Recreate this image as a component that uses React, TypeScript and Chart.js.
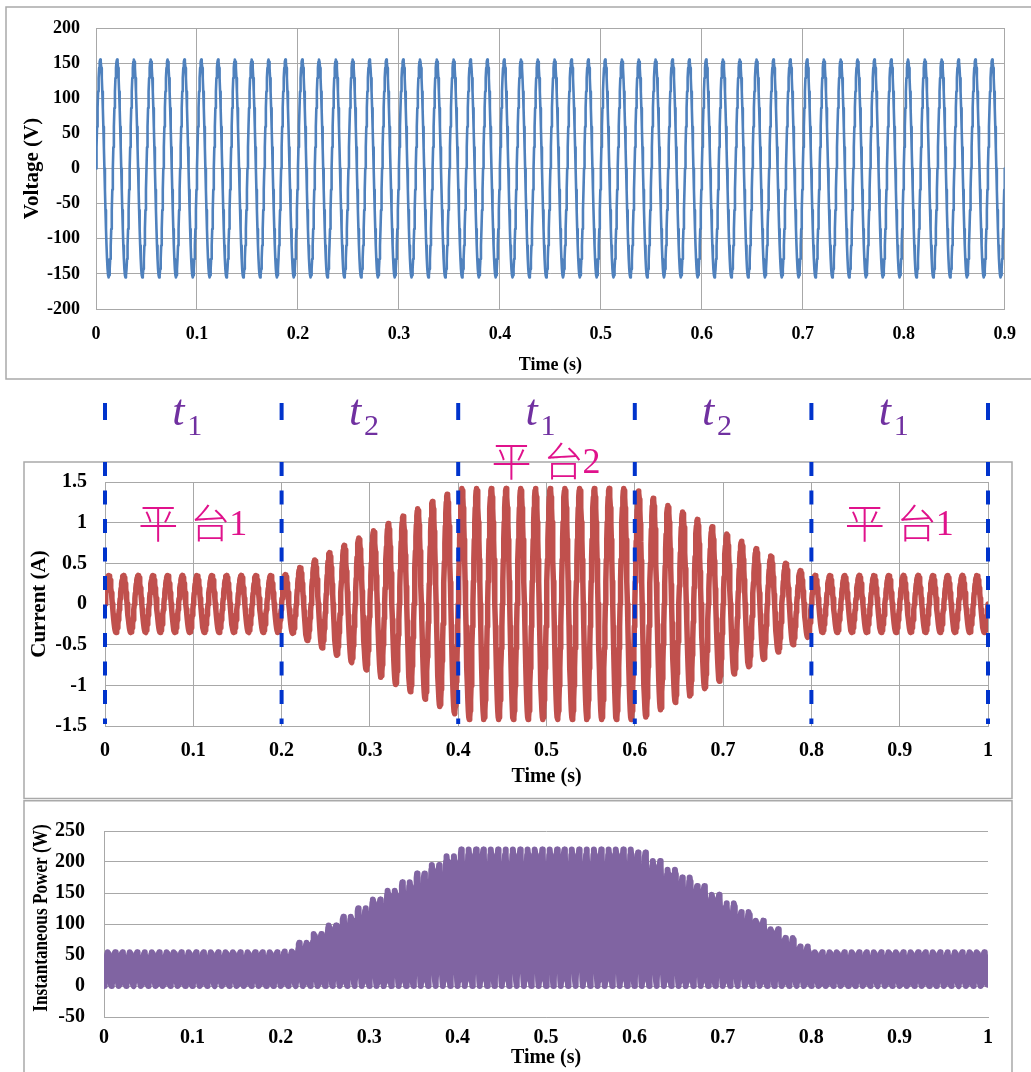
import React, { useEffect, useRef } from "react";
import { Chart, registerables } from "chart.js";

Chart.register(...registerables);

// ---------------- data ----------------
const lineFrequencyHz = 60; // one waveform cycle every 1/60 s
const voltagePeak = 155; // V, constant supply amplitude

const voltageTimeTicks = [0, 0.1, 0.2, 0.3, 0.4, 0.5, 0.6, 0.7, 0.8, 0.9];
const voltageTicks = [-200, -150, -100, -50, 0, 50, 100, 150, 200];
const currentTimeTicks = [0, 0.1, 0.2, 0.3, 0.4, 0.5, 0.6, 0.7, 0.8, 0.9, 1];
const currentTicks = [-1.5, -1, -0.5, 0, 0.5, 1, 1.5];
const powerTimeTicks = [0, 0.1, 0.2, 0.3, 0.4, 0.5, 0.6, 0.7, 0.8, 0.9, 1];
const powerTicks = [-50, 0, 50, 100, 150, 200, 250];

// peak current (A) of each 1/60 s cycle, 60 cycles over 0..1 s
const currentCyclePeaks = [
  0.35, 0.35, 0.35, 0.35, 0.35, 0.35, 0.35, 0.35, 0.35, 0.35, 0.35, 0.35,
  0.36, 0.45, 0.54, 0.63, 0.72, 0.81, 0.9, 0.99, 1.08, 1.17, 1.26, 1.35,
  1.42, 1.42, 1.42, 1.42, 1.42, 1.42, 1.42, 1.42, 1.42, 1.42, 1.42, 1.42,
  1.39, 1.3, 1.21, 1.13, 1.04, 0.95, 0.86, 0.77, 0.68, 0.59, 0.5, 0.41,
  0.35, 0.35, 0.35, 0.35, 0.35, 0.35, 0.35, 0.35, 0.35, 0.35, 0.35, 0.35,
];

const phaseBoundaries = [0, 0.2, 0.4, 0.6, 0.8, 1];
const phaseSubscripts = ["1", "2", "1", "2", "1"];
const platformNames = ["平台", "平台", "平台"];
const platformNumbers = ["1", "2", "1"];
const platformTimes = [0.1, 0.5, 0.9];
const platformLevels = [1.0, 1.76, 1.0];

// ---------------- series (sinusoidal cycles scaled by the peaks above) ----------------
const SAMPLES_PER_CYCLE = 32;
type Pt = { x: number; y: number };
function buildSeries() {
  const period = 1 / lineFrequencyHz;
  const v: Pt[] = [];
  const i: Pt[] = [];
  const p: Pt[] = [];
  currentCyclePeaks.forEach((peak, k) => {
    for (let s = 0; s < SAMPLES_PER_CYCLE; s++) {
      const t = (k + s / SAMPLES_PER_CYCLE) * period;
      const sn = Math.sin((2 * Math.PI * s) / SAMPLES_PER_CYCLE);
      const vv = voltagePeak * sn;
      const ii = peak * sn;
      v.push({ x: t, y: vv });
      i.push({ x: t, y: ii });
      p.push({ x: t, y: vv * ii });
    }
  });
  const tEnd = currentCyclePeaks.length * period;
  v.push({ x: tEnd, y: 0 });
  i.push({ x: tEnd, y: 0 });
  p.push({ x: tEnd, y: 0 });
  return { v: v.filter((d) => d.x <= 0.9 + 1e-9), i, p };
}

const SERIF = "'Liberation Serif', 'Times New Roman', serif";
const GRID = "#a8a8a8";
const FRAME = "#a9a9a9";

function fmt(v: number) {
  return String(Math.round(v * 100) / 100);
}

function framePlugin(x: number, y: number, w: number, h: number) {
  return {
    id: "frame",
    beforeDraw(chart: any) {
      const ctx = chart.ctx;
      ctx.save();
      ctx.strokeStyle = FRAME;
      ctx.lineWidth = 1.5;
      ctx.strokeRect(x, y, w, h);
      ctx.restore();
    },
  };
}

function axisCommon(
  ticksArr: number[],
  fontSize: number,
  pad: number,
  fixed: { width?: number; height?: number },
  title: string,
  titleFont: any,
  titlePad: any,
  gridDisplay = true,
  titleDisplay = true
) {
  return {
    type: "linear",
    min: ticksArr[0],
    max: ticksArr[ticksArr.length - 1],
    afterBuildTicks: (s: any) => {
      s.ticks = ticksArr.map((value) => ({ value }));
    },
    afterFit: (s: any) => {
      if (fixed.width !== undefined) s.width = fixed.width;
      if (fixed.height !== undefined) s.height = fixed.height;
    },
    grid: { display: gridDisplay, color: GRID, lineWidth: 1, drawTicks: false },
    border: { display: true, color: GRID, width: 1 },
    ticks: {
      color: "#000",
      font: { family: SERIF, size: fontSize, weight: "bold" },
      padding: pad,
      autoSkip: false,
      maxRotation: 0,
      callback: (v: any) => fmt(Number(v)),
    },
    title: {
      display: titleDisplay,
      text: title,
      color: "#000",
      font: titleFont,
      padding: titlePad,
    },
  };
}

const annotationPlugin = {
  id: "phaseAnnotations",
  afterDatasetsDraw(chart: any) {
    const ctx = chart.ctx;
    const xs = chart.scales.x;
    const ys = chart.scales.y;
    const top = chart.chartArea.top;
    const bottom = chart.chartArea.bottom;
    ctx.save();
    // platform labels
    ctx.fillStyle = "#e0128c";
    ctx.textBaseline = "alphabetic";
    platformNames.forEach((name, k) => {
      const cx = xs.getPixelForValue(platformTimes[k]);
      const cy = ys.getPixelForValue(platformLevels[k]);
      const x0 = cx - 55;
      ctx.font = `300 40px 'Noto Sans CJK SC', sans-serif`;
      (ctx as any).letterSpacing = "12px";
      ctx.textAlign = "left";
      ctx.fillText(name, x0, cy + 15);
      (ctx as any).letterSpacing = "0px";
      ctx.font = `36px ${SERIF}`;
      ctx.fillText(platformNumbers[k], x0 + 91, cy + 12);
    });
    // phase boundaries
    ctx.strokeStyle = "#0033cc";
    ctx.lineWidth = 4;
    phaseBoundaries.forEach((b) => {
      const x = xs.getPixelForValue(b);
      ctx.setLineDash([]);
      ctx.beginPath();
      ctx.moveTo(x, top - 79);
      ctx.lineTo(x, top - 62);
      ctx.stroke();
      ctx.setLineDash([14, 14.5]);
      ctx.beginPath();
      ctx.moveTo(x, top - 20);
      ctx.lineTo(x, bottom - 2);
      ctx.stroke();
    });
    ctx.setLineDash([]);
    // t1 / t2 labels
    ctx.fillStyle = "#7030a0";
    ctx.textAlign = "left";
    phaseSubscripts.forEach((sub, k) => {
      const cx =
        (xs.getPixelForValue(phaseBoundaries[k]) + xs.getPixelForValue(phaseBoundaries[k + 1])) / 2;
      ctx.font = `italic 44px ${SERIF}`;
      ctx.fillText("t", cx - 21, top - 57);
      ctx.font = `30px ${SERIF}`;
      ctx.fillText(sub, cx - 6, top - 47);
    });
    ctx.restore();
  },
};

const powerTitlePlugin = {
  id: "powerTitle",
  afterDraw(chart: any) {
    const ctx = chart.ctx;
    const { top, bottom } = chart.chartArea;
    ctx.save();
    ctx.translate(42, (top + bottom) / 2 - 6);
    ctx.rotate(-Math.PI / 2);
    ctx.scale(0.86, 1);
    ctx.font = `bold 20px ${SERIF}`;
    ctx.fillStyle = "#000";
    ctx.textAlign = "center";
    ctx.textBaseline = "middle";
    ctx.fillText("Instantaneous Power (W)", 0, 0);
    ctx.restore();
  },
};

function useChart(ref: React.RefObject<HTMLCanvasElement>, make: () => any) {
  useEffect(() => {
    if (!ref.current) return;
    const chart = new Chart(ref.current, make());
    return () => chart.destroy();
  }, []);
}

const baseOptions = {
  responsive: false,
  animation: false,
  devicePixelRatio: 1,
  events: [],
  plugins: { legend: { display: false }, tooltip: { enabled: false } },
};

export default function App() {
  const vRef = useRef<HTMLCanvasElement>(null);
  const iRef = useRef<HTMLCanvasElement>(null);
  const pRef = useRef<HTMLCanvasElement>(null);
  const series = useRef(buildSeries()).current;

  useChart(vRef, () => ({
    type: "line",
    data: {
      datasets: [
        {
          data: series.v,
          borderColor: "#4f81bd",
          borderWidth: 2.6,
          pointRadius: 0,
          tension: 0,
          borderJoinStyle: "round",
          borderCapStyle: "round",
        },
      ],
    },
    options: {
      ...baseOptions,
      parsing: false,
      layout: { padding: { top: 28, right: 15, left: 0, bottom: 0 } },
      scales: {
        x: axisCommon(voltageTimeTicks, 18, 15, { height: 71 }, "Time (s)",
          { family: SERIF, size: 18, weight: "bold" }, { top: 0, bottom: 4 }),
        y: axisCommon(voltageTicks, 18, 16, { width: 96 }, "Voltage (V)",
          { family: SERIF, size: 21, weight: "bold" }, { top: 20, bottom: 0 }),
      },
    },
    plugins: [framePlugin(6, 7, 1040, 372)],
  }));

  useChart(iRef, () => ({
    type: "line",
    data: {
      datasets: [
        {
          data: series.i,
          borderColor: "#c0504d",
          borderWidth: 5.5,
          pointRadius: 0,
          tension: 0,
          borderJoinStyle: "round",
          borderCapStyle: "round",
        },
      ],
    },
    options: {
      ...baseOptions,
      parsing: false,
      layout: { padding: { top: 102, right: 43, left: 0, bottom: 0 } },
      scales: {
        x: axisCommon(currentTimeTicks, 20, 13, { height: 74 }, "Time (s)",
          { family: SERIF, size: 20, weight: "bold" }, { top: 0, bottom: 11 }),
        y: axisCommon(currentTicks, 20, 18, { width: 105 }, "Current (A)",
          { family: SERIF, size: 21, weight: "bold" }, { top: 27, bottom: 0 }),
      },
    },
    plugins: [framePlugin(24, 82, 988, 336.5), annotationPlugin],
  }));

  useChart(pRef, () => ({
    type: "line",
    data: {
      datasets: [
        {
          data: series.p,
          borderColor: "#8064a2",
          borderWidth: 6,
          pointRadius: 0,
          tension: 0,
          borderJoinStyle: "round",
        },
      ],
    },
    options: {
      ...baseOptions,
      parsing: false,
      layout: { padding: { top: 15, right: 43, left: 0, bottom: 0 } },
      scales: {
        x: axisCommon(powerTimeTicks, 20, 9, { height: 55 }, "Time (s)",
          { family: SERIF, size: 20, weight: "bold" }, { top: 0, bottom: 2 }, false),
        y: axisCommon(powerTicks, 20, 19, { width: 104 }, "Instantaneous Power (W)",
          { family: SERIF, size: 18, weight: "normal" }, { top: 31, bottom: 0 }, true, false),
      },
    },
    plugins: [framePlugin(24, 0.75, 988, 300), powerTitlePlugin],
  }));

  return (
    <div
      style={{
        position: "absolute",
        left: 0,
        top: 0,
        width: 1031,
        height: 1072,
        overflow: "hidden",
        background: "#fff",
      }}
    >
      <canvas ref={vRef} width={1031} height={380}
        style={{ position: "absolute", left: 0, top: 0, width: 1031, height: 380 }} />
      <canvas ref={iRef} width={1031} height={420}
        style={{ position: "absolute", left: 0, top: 380, width: 1031, height: 420 }} />
      <canvas ref={pRef} width={1031} height={272}
        style={{ position: "absolute", left: 0, top: 800, width: 1031, height: 272 }} />
    </div>
  );
}
